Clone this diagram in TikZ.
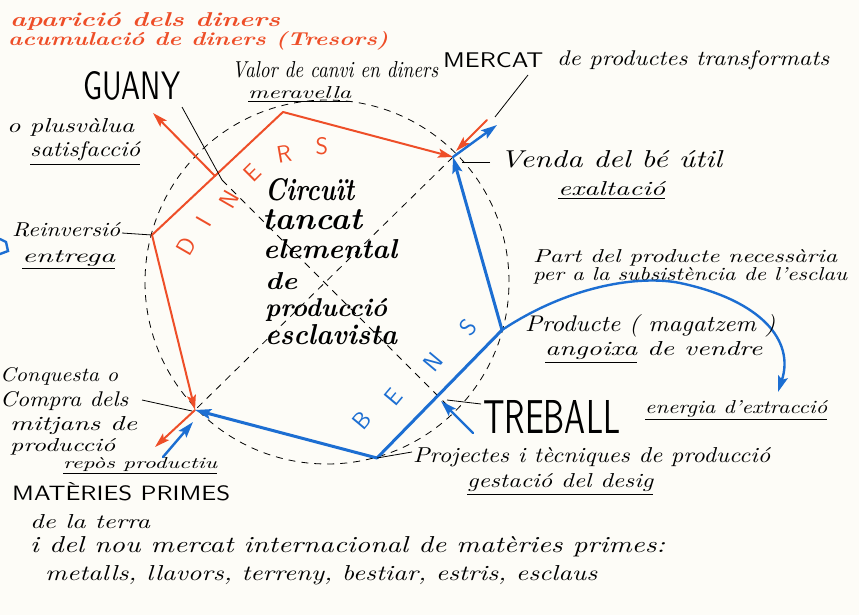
\documentclass[tikz,border=0pt]{standalone}
\usepackage{fontspec}
\usepackage{graphicx}
\usetikzlibrary{arrows.meta}
\definecolor{myred}{RGB}{238,78,40}
\definecolor{myblue}{RGB}{28,110,210}
\definecolor{paper}{RGB}{253,252,247}
\newcommand{\fw}[2]{\resizebox{#1pt}{!}{#2}}
\newcommand{\fwh}[3]{\resizebox{#1pt}{#2pt}{#3}}
\tikzset{
  lbl/.style={inner sep=0pt, anchor=base west, font=\itshape},
  redtxt/.style={inner sep=0pt, anchor=base west, text=myred, font=\bfseries\itshape},
  caps/.style={inner sep=0pt, anchor=base west, font=\sffamily},
  ctr/.style={inner sep=0pt, anchor=base west, font=\bfseries\itshape},
  redl/.style={draw=myred, line width=2pt, line cap=round, line join=round},
  bluel/.style={draw=myblue, line width=3pt, line cap=round, line join=round},
  bluethin/.style={draw=myblue, line width=2.4pt, line cap=round},
  rtip/.style={-{Stealth[length=15pt,width=9pt,inset=3pt]}},
  btip/.style={-{Stealth[length=16pt,width=10pt,inset=3pt]}},
  ptr/.style={draw=black, line width=0.8pt},
  dline/.style={draw=black, line width=0.8pt, dash pattern=on 7pt off 6pt},
  rlet/.style={text=myred, inner sep=0pt, font=\sffamily\fontsize{24}{24}\selectfont},
  blet/.style={text=myblue, inner sep=0pt, font=\sffamily\fontsize{24}{24}\selectfont, rotate=50},
}
\begin{document}
\begin{tikzpicture}[x=1pt,y=-1pt]
\fill[paper] (0,0) rectangle (859,615);
\useasboundingbox (0,0) rectangle (859,615);

% polygon vertices
\coordinate (V1) at (195,410);
\coordinate (V2) at (152,235);
\coordinate (V3) at (283,112);
\coordinate (V4) at (453,157);
\coordinate (V5) at (502,330);
\coordinate (V6) at (377,458);
\coordinate (C) at (327,282);

% dashed circle and diagonals
\draw[dline] (C) circle (182pt);
\coordinate (G1) at (182,107);
\coordinate (G2) at (222,180);
\coordinate (T1) at (446,404);
\draw[dline] (V4) -- (V1);
\draw[dline] (G2) -- (T1);

% red (DINERS) part
\draw[redl] (V2) -- (V3);
\draw[redl, rtip] (V3) -- (V4);
\draw[redl, rtip] (V2) -- (V1);
\coordinate (RA) at (215,176);
\coordinate (RAt) at (153,113);
\draw[redl, rtip] (RA) -- (RAt);
\coordinate (RB) at (487,120);
\coordinate (RBt) at (456,151);
\draw[redl, rtip] (RB) -- (RBt);
\coordinate (RCt) at (155,447);
\draw[redl, rtip] (V1) -- (RCt);

% blue (BENS) part
\draw[bluel] (V6) -- (V5);
\draw[bluel, btip] (V5) -- (V4);
\draw[bluel, btip] (V6) -- (V1);
\coordinate (BAt) at (497,125);
\draw[bluethin, btip] (V4) -- (BAt);
\coordinate (BB) at (163,457);
\coordinate (BBt) at (193,422);
\draw[bluethin, btip] (BB) -- (BBt);
\coordinate (BC) at (473,433);
\coordinate (BCt) at (441,401);
\draw[bluethin, btip] (BC) -- (BCt);
\coordinate (BD1) at (680,283);
\coordinate (BDt) at (778,392);
\draw[bluethin, btip] (V5) .. controls (570,285) and (640,275) .. (BD1)
      .. controls (760,300) and (795,340) .. (BDt);
% small blue fragment at left edge
\draw[bluethin] (0,239) -- (6,242) -- (8,251) -- (0,254);

% pointer lines
\draw[ptr] (G1) -- (G2);
\coordinate (M1) at (528,75);
\coordinate (M2) at (495,117);
\draw[ptr] (M1) -- (M2);
\coordinate (VE) at (490,162);
\draw[ptr] (VE) -- (462,162);
\coordinate (RE) at (122,233);
\draw[ptr] (RE) -- (V2);
\coordinate (CQ) at (142,400);
\draw[ptr] (CQ) -- (192,411);
\coordinate (TR) at (481,404);
\draw[ptr] (TR) -- (447,400);
\coordinate (PR) at (412,452);
\draw[ptr] (PR) -- (V6);

% letters DINERS
\node[rlet, rotate=60] (d1) at (186,246) {D};
\node[rlet, rotate=60] (d2) at (204,222) {I};
\node[rlet, rotate=60] (d3) at (229,199) {N};
\node[rlet, rotate=45] (d4) at (252,173) {E};
\node[rlet, rotate=10] (d5) at (284,154) {R};
\node[rlet, rotate=0] (d6) at (322,146) {S};
% letters BENS
\node[blet] (b1) at (362,420) {B};
\node[blet] (b2) at (393,397) {E};
\node[blet] (b3) at (433,362) {N};
\node[blet] (b4) at (468,327) {S};

% top red text
\node[redtxt] (t1) at (10,27) {\fwh{270}{14}{aparició dels diners}};
\node[redtxt] (t2) at (8,46) {\fwh{380}{14}{acumulació de diners (Tresors)}};

% labels
\node[caps] (guany) at (83,100) {\fwh{97}{28}{GUANY}};
\node[lbl] (valor) at (232,78) {\fwh{206}{16}{Valor de canvi en diners}};
\node[lbl] (merav) at (248,99) {\fwh{103}{12}{\underline{meravella}}};
\node[caps] (mercat) at (443,68) {\fwh{100}{15}{MERCAT}};
\node[lbl] (prodtr) at (557,66) {\fwh{272}{15}{de productes transformats}};
\node[lbl] (plus) at (7,132) {\fwh{127}{14}{o plusvàlua}};
\node[lbl] (satis) at (30,157) {\fwh{110}{15}{\underline{satisfacció}}};
\node[lbl] (reinv) at (12,236) {\fwh{108}{14}{Reinversió}};
\node[lbl] (entr) at (22,262) {\fwh{93}{12}{\underline{entrega}}};
\node[lbl] (venda) at (500,167) {\fwh{222}{17}{Venda del bé útil}};
\node[lbl] (exalt) at (558,195) {\fwh{107}{14}{\underline{exaltació}}};
\node[lbl] (part1) at (533,262) {\fwh{304}{13}{Part del producte necessària}};
\node[lbl] (part2) at (533,280) {\fwh{314}{13}{per a la subsistència de l'esclau}};
\node[lbl] (prod) at (525,331) {\fwh{250}{17}{Producte ( magatzem )}};
\node[lbl] (ango) at (545,355) {\fwh{217}{14}{\underline{angoixa} de vendre}};
\node[caps] (treball) at (483,433) {\fwh{137}{33}{TREBALL}};
\node[lbl] (energ) at (645,413) {\fwh{182}{13}{\underline{energia d'extracció}}};
\node[lbl] (proj) at (413,462) {\fwh{357}{15}{Projectes i tècniques de producció}};
\node[lbl] (gest) at (467,487) {\fwh{186}{14}{\underline{gestació del desig}}};
\node[lbl] (conq) at (0,381) {\fwh{118}{14}{Conquesta o}};
\node[lbl] (compra) at (0,406) {\fwh{128}{15}{Compra dels}};
\node[lbl] (mitj) at (10,430) {\fwh{127}{14}{mitjans de}};
\node[lbl] (prodc) at (10,451) {\fwh{105}{13}{producció}};
\node[lbl] (repos) at (63,468) {\fwh{154}{11}{\underline{repòs productiu}}};
\node[caps] (mat) at (12,500) {\fwh{218}{18}{MATÈRIES PRIMES}};
\node[lbl] (terra) at (30,528) {\fwh{120}{14}{de la terra}};
\node[lbl] (nou) at (30,552) {\fwh{635}{16}{i del nou mercat internacional de matèries primes:}};
\node[lbl] (metal) at (45,580) {\fwh{552}{15}{metalls, llavors, terreny, bestiar, estris, esclaus}};

% centre text
\node[ctr] (c1) at (265,200) {\fwh{89}{22}{Circuït}};
\node[ctr] (c2) at (262,229) {\fwh{100}{20}{tancat}};
\node[ctr] (c3) at (263,258) {\fwh{134}{19}{elemental}};
\node[ctr] (c4) at (265,289) {\fwh{32}{17}{de}};
\node[ctr] (c5) at (265,316) {\fwh{122}{18}{producció}};
\node[ctr] (c6) at (265,344) {\fwh{132}{20}{esclavista}};
\end{tikzpicture}
\end{document}
